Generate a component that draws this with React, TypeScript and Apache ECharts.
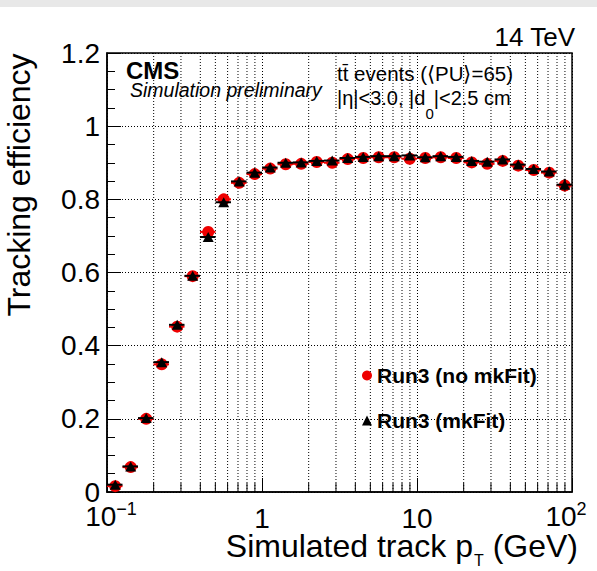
import React, { useEffect, useRef } from "react";
import * as echarts from "echarts";

// bin edges in simulated track pT (GeV), log bins of 0.1 decade
const binEdges = [
  0.1, 0.1259, 0.1585, 0.1995, 0.2512, 0.3162, 0.3981, 0.5012, 0.631, 0.7943,
  1, 1.259, 1.585, 1.995, 2.512, 3.162, 3.981, 5.012, 6.31, 7.943,
  10, 12.59, 15.85, 19.95, 25.12, 31.62, 39.81, 50.12, 63.1, 79.43, 100,
];
// point positions (bin centres)
const ptCenters = [
  0.113, 0.1422, 0.179, 0.2254, 0.2837, 0.3572, 0.4497, 0.5661, 0.7127, 0.8972,
  1.13, 1.422, 1.79, 2.254, 2.837, 3.572, 4.497, 5.661, 7.127, 8.972,
  11.3, 14.22, 17.9, 22.54, 28.37, 35.72, 44.97, 56.61, 71.27, 89.72,
];
const effNoMkFit = [
  0.016, 0.068, 0.2, 0.349, 0.452, 0.59, 0.711, 0.8, 0.845, 0.869,
  0.884, 0.896, 0.897, 0.902, 0.9, 0.91, 0.913, 0.915, 0.915, 0.911,
  0.913, 0.915, 0.913, 0.901, 0.897, 0.905, 0.892, 0.88, 0.873, 0.838,
];
const effMkFit = [
  0.02, 0.07, 0.202, 0.355, 0.457, 0.591, 0.697, 0.792, 0.849, 0.873,
  0.887, 0.9, 0.901, 0.905, 0.906, 0.913, 0.916, 0.918, 0.918, 0.92,
  0.915, 0.918, 0.916, 0.905, 0.903, 0.909, 0.895, 0.883, 0.876, 0.84,
];
const effErr = [
  0.004, 0.005, 0.006, 0.006, 0.006, 0.005, 0.005, 0.004, 0.004, 0.003,
  0.003, 0.003, 0.003, 0.003, 0.003, 0.003, 0.003, 0.003, 0.003, 0.003,
  0.004, 0.004, 0.005, 0.005, 0.006, 0.007, 0.008, 0.01, 0.012, 0.016,
];
const minorXTicks = [
  0.2, 0.3, 0.4, 0.5, 0.6, 0.7, 0.8, 0.9,
  2, 3, 4, 5, 6, 7, 8, 9,
  20, 30, 40, 50, 60, 70, 80, 90,
];
const seriesNames = ["Run3 (no mkFit)", "Run3 (mkFit)"];

const FONT = "'Liberation Sans', Arial, Helvetica, sans-serif";

function errRenderer(color: string) {
  return (params: any, api: any) => {
    const x = api.value(0);
    const y = api.value(1);
    const a = api.coord([api.value(2), y]);
    const b = api.coord([api.value(3), y]);
    const e = api.value(4);
    const lo = api.coord([x, y - e]);
    const hi = api.coord([x, y + e]);
    return {
      type: "group",
      children: [
        { type: "line", shape: { x1: a[0], y1: a[1], x2: b[0], y2: b[1] }, style: { stroke: color, lineWidth: 2 } },
        { type: "line", shape: { x1: lo[0], y1: lo[1], x2: hi[0], y2: hi[1] }, style: { stroke: color, lineWidth: 2 } },
      ],
    };
  };
}

export default function App() {
  const ref = useRef<HTMLDivElement>(null);
  useEffect(() => {
    if (!ref.current) return;
    const chart = echarts.init(ref.current, null, { renderer: "svg" });
    const dotted = { type: [1, 2] as any, color: "#000", width: 1 };
    chart.setOption({
      animation: false,
      backgroundColor: "#fff",
      textStyle: { fontFamily: FONT },
      grid: {
        left: 107, top: 53, width: 470, height: 439,
        show: true, borderColor: "#000", borderWidth: 1.5, containLabel: false,
      },
      legend: {
        orient: "vertical", left: 362, top: 365, padding: 0,
        itemWidth: 10, itemHeight: 10, itemGap: 24,
        textStyle: { fontFamily: FONT, fontSize: 21, fontWeight: "bold", color: "#000" },
        data: [
          { name: seriesNames[0], icon: "circle", itemStyle: { color: "#ee0000" } },
          { name: seriesNames[1], icon: "triangle", itemStyle: { color: "#000" } },
        ],
      },
      xAxis: {
        type: "log", logBase: 10, min: 0.1, max: 100,
        axisLine: { show: true, lineStyle: { color: "#000", width: 1.5 } },
        axisTick: { show: true, inside: true, length: 14, lineStyle: { color: "#000", width: 1 } },
        splitLine: { show: true, lineStyle: dotted },
        axisLabel: {
          show: true, margin: 8, color: "#000", showMinLabel: true, showMaxLabel: true, hideOverlap: false,
          formatter: (v: number) => {
            const p = Math.round(Math.log10(v));
            if (p === -1) return "{p| }{b|10}{s|\u22121}";
            if (p === 2) return "{b|10}{s|2}{q| }";
            if (p === 0) return "{c|1}";
            return "{c|10}";
          },
          rich: {
            b: { fontFamily: FONT, fontSize: 28, lineHeight: 30, verticalAlign: "bottom", color: "#000" },
            s: { fontFamily: FONT, fontSize: 18, lineHeight: 18, verticalAlign: "top", padding: [0, 0, 18, 0], color: "#000" },
            c: { fontFamily: FONT, fontSize: 28, lineHeight: 30, padding: [6, 0, 0, 0], color: "#000" },
            p: { width: 8, fontSize: 10 },
            q: { width: 12, fontSize: 10 },
          },
        },
      },
      yAxis: {
        type: "value", min: 0, max: 1.2, interval: 0.2,
        axisLine: { show: true, lineStyle: { color: "#000", width: 1.5 } },
        axisTick: { show: true, inside: true, length: 14, lineStyle: { color: "#000", width: 1 } },
        minorTick: { show: true, splitNumber: 4, length: 8, lineStyle: { color: "#000", width: 1 } },
        splitLine: { show: true, lineStyle: dotted },
        axisLabel: { fontFamily: FONT, fontSize: 28, color: "#000", margin: 7 },
      },
      graphic: [
        { type: "rect", left: 0, top: 0, shape: { width: 597, height: 7 }, style: { fill: "#e8e8e8" }, silent: true },
        {
          type: "text", x: 575, y: 37,
          style: { text: "14 TeV", fontFamily: FONT, fontSize: 26, fill: "#000", align: "right", verticalAlign: "middle" },
        },
        {
          type: "text", x: 126, y: 70,
          style: { text: "CMS", fontFamily: FONT, fontSize: 24, lineHeight: 20, fontWeight: "bold", fill: "#000", align: "left", verticalAlign: "middle" },
        },
        {
          type: "text", x: 130, y: 90,
          style: { text: "Simulation preliminary", fontFamily: FONT, fontSize: 19.5, lineHeight: 18, fontStyle: "italic", fill: "#000", align: "left", verticalAlign: "middle" },
        },
        {
          type: "text", x: 337, y: 73,
          style: { text: "tt\u0304 events (\u27E8PU\u27E9=65)", fontFamily: FONT, fontSize: 20.5, fill: "#000", align: "left", verticalAlign: "middle" },
        },
        {
          type: "text", x: 337, y: 88,
          style: {
            text: "{n||\u03B7|<3.0, |d}{sub|0}{n||<2.5 cm}",
            align: "left", verticalAlign: "top",
            rich: {
              n: { fontFamily: FONT, fontSize: 20, lineHeight: 20, verticalAlign: "top", fill: "#000" },
              sub: { fontFamily: FONT, fontSize: 15, lineHeight: 15, padding: [18, 0, 0, 0], verticalAlign: "top", fill: "#000" },
            },
          },
        },
        {
          type: "text", x: 19, y: 185, rotation: Math.PI / 2,
          style: { text: "Tracking efficiency", fontFamily: FONT, fontSize: 32, fill: "#000", align: "center", verticalAlign: "middle" },
        },
        {
          type: "text", x: 578, y: 530,
          style: {
            text: "{n|Simulated track p}{sub|T}{n| (GeV)}",
            align: "right", verticalAlign: "top",
            rich: {
              n: { fontFamily: FONT, fontSize: 32, lineHeight: 28, verticalAlign: "top", fill: "#000" },
              sub: { fontFamily: FONT, fontSize: 16, lineHeight: 16, padding: [22, 0, 0, 1], verticalAlign: "top", fill: "#000" },
            },
          },
        },
      ],
      series: [
        {
          type: "custom", name: "minorGrid", silent: true, z: 1, clip: true,
          data: minorXTicks.map((v) => [v, 0]),
          renderItem: (params: any, api: any) => {
            const x = api.value(0);
            const b = api.coord([x, 0]);
            const t = api.coord([x, 1.2]);
            return {
              type: "group",
              children: [
                { type: "line", shape: { x1: b[0], y1: b[1], x2: t[0], y2: t[1] }, style: { stroke: "#000", lineWidth: 1, lineDash: [1, 2] } },
                { type: "line", shape: { x1: b[0], y1: b[1], x2: b[0], y2: b[1] - 9 }, style: { stroke: "#000", lineWidth: 1 } },
              ],
            };
          },
        },
        {
          type: "custom", name: "errNo", silent: true, z: 3,
          data: ptCenters.map((x, i) => [x, effNoMkFit[i], binEdges[i], binEdges[i + 1], effErr[i]]),
          renderItem: errRenderer("#ee0000"),
        },
        {
          type: "scatter", name: seriesNames[0], symbol: "circle", symbolSize: 12, z: 4,
          itemStyle: { color: "#ee0000", opacity: 1 },
          data: ptCenters.map((x, i) => [x, effNoMkFit[i]]),
        },
        {
          type: "custom", name: "errMk", silent: true, z: 5,
          data: ptCenters.map((x, i) => [x, effMkFit[i], binEdges[i], binEdges[i + 1], effErr[i]]),
          renderItem: errRenderer("#000"),
        },
        {
          type: "scatter", name: seriesNames[1], symbol: "triangle", symbolSize: [11, 10], z: 6,
          itemStyle: { color: "#000", opacity: 1 },
          data: ptCenters.map((x, i) => [x, effMkFit[i]]),
        },
      ],
    });
    return () => chart.dispose();
  }, []);
  return (
    <div
      ref={ref}
      style={{ position: "absolute", left: 0, top: 0, width: 597, height: 571, background: "#fff" }}
    />
  );
}
